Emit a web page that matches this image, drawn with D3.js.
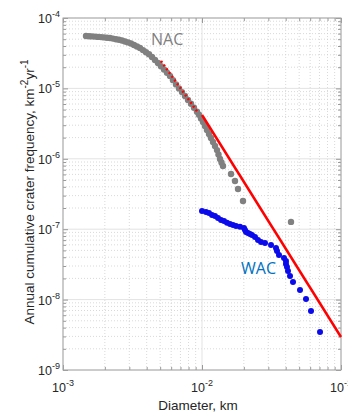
<!DOCTYPE html>
<html>
<head>
<meta charset="utf-8">
<script src="https://cdn.jsdelivr.net/npm/d3@7"></script>
<style>
body { margin: 0; background: #fff; }
text { font-family: "Liberation Sans", Arial, sans-serif; fill: #262626; }
</style>
</head>
<body>
<svg width="348" height="413"></svg>
<script>
// NAC cumulative frequency (gray)
const nacDiam = [0.001464, 0.001539, 0.001616, 0.001699, 0.001785, 0.001877, 0.001972, 0.002073, 0.002178, 0.002289,
	0.002406, 0.002528, 0.002657, 0.002793, 0.002935, 0.003084, 0.003242, 0.003407, 0.003581, 0.003763,
	0.003955, 0.004156, 0.004368, 0.00459, 0.004825, 0.00507, 0.005329, 0.0056, 0.005886, 0.006186,
	0.006501, 0.006832, 0.00718, 0.007546, 0.007931, 0.008335, 0.008759, 0.009205, 0.009515, 0.009835,
	0.01017, 0.01051, 0.01086, 0.01123, 0.01161, 0.012, 0.0124, 0.01282, 0.01314, 0.01348,
	0.01381, 0.01416, 0.01617, 0.01728, 0.01816, 0.01972, 0.04368]
const nacFreq = [5.55e-5, 5.51e-5, 5.48e-5, 5.44e-5, 5.39e-5, 5.35e-5, 5.3e-5, 5.25e-5, 5.2e-5, 5.1e-5,
	5.0e-5, 4.9e-5, 4.78e-5, 4.64e-5, 4.5e-5, 4.34e-5, 4.14e-5, 3.94e-5, 3.75e-5, 3.5e-5,
	3.27e-5, 3.05e-5, 2.79e-5, 2.53e-5, 2.3e-5, 2.07e-5, 1.86e-5, 1.67e-5, 1.5e-5, 1.31e-5,
	1.14e-5, 1.0e-5, 8.86e-6, 7.8e-6, 6.87e-6, 6.06e-6, 5.32e-6, 4.67e-6, 4.22e-6, 3.75e-6,
	3.33e-6, 2.92e-6, 2.57e-6, 2.25e-6, 1.98e-6, 1.73e-6, 1.52e-6, 1.33e-6, 1.15e-6, 9.94e-7,
	8.86e-7, 7.9e-7, 6.08e-7, 4.84e-7, 3.72e-7, 2.51e-7, 1.27e-7]

// WAC cumulative frequency (blue)
const wacDiam = [0.01, 0.01069, 0.01123, 0.0118, 0.0124, 0.01303, 0.0137, 0.0144, 0.01513, 0.0159,
	0.01671, 0.01757, 0.01876, 0.02005, 0.02039, 0.02073, 0.02143, 0.02215, 0.02289, 0.02406,
	0.02528, 0.02657, 0.0284, 0.03137, 0.03407, 0.03464, 0.03581, 0.0389, 0.04019, 0.04019,
	0.04087, 0.04156, 0.04297, 0.04515, 0.0507, 0.056, 0.06084, 0.07064]
const wacFreq = [1.81e-7, 1.76e-7, 1.7e-7, 1.59e-7, 1.54e-7, 1.44e-7, 1.35e-7, 1.31e-7, 1.23e-7, 1.19e-7,
	1.15e-7, 1.11e-7, 1.08e-7, 1.04e-7, 9.74e-8, 9.12e-8, 8.83e-8, 8.55e-8, 8.27e-8, 7.75e-8,
	7.02e-8, 6.58e-8, 6.37e-8, 5.97e-8, 5.41e-8, 4.9e-8, 4.3e-8, 3.9e-8, 3.53e-8, 3.2e-8,
	2.9e-8, 2.55e-8, 2.16e-8, 1.78e-8, 1.37e-8, 1.02e-8, 6.89e-9, 3.47e-9]

// power-law fit (red)
const fitDiam = [0.01, 0.1]
const fitFreq = [4.19e-6, 2.94e-9]
const fitExtDiam = [0.00507, 0.0094]
const fitExtFreq = [2.45e-5, 4.47e-6]

const xTicks = [1e-3, 1e-2, 1e-1]
const xTickExp = ["-3", "-2", "-1"]
const yTicks = [1e-9, 1e-8, 1e-7, 1e-6, 1e-5, 1e-4]
const yTickExp = ["-9", "-8", "-7", "-6", "-5", "-4"]

const margin = { top: 18, right: 7, bottom: 43, left: 63 }
const svg = d3.select("svg")
const width = +svg.attr("width") - margin.left - margin.right
const height = +svg.attr("height") - margin.top - margin.bottom

const x = d3.scaleLog().domain([1e-3, 1e-1]).range([0, width])
const y = d3.scaleLog().domain([1e-9, 1e-4]).range([height, 0])

const minor = (decades) => {
	const out = []
	decades.slice(0, -1).forEach((d) => {
		for (let k = 2; k <= 9; k++) out.push(d * k)
	})
	return out
}
const xMinor = minor(xTicks)
const yMinor = minor(yTicks)

const graph = svg.append("g").attr("transform", `translate(${margin.left}, ${margin.top})`)

// grid
const grid = graph.append("g")
grid.selectAll(".xm").data(xMinor).enter().append("line")
	.attr("x1", (d) => x(d)).attr("x2", (d) => x(d)).attr("y1", 0).attr("y2", height)
	.attr("stroke", "#cfcfcf").attr("stroke-width", 0.8).attr("stroke-dasharray", "1,2")
grid.selectAll(".ym").data(yMinor).enter().append("line")
	.attr("y1", (d) => y(d)).attr("y2", (d) => y(d)).attr("x1", 0).attr("x2", width)
	.attr("stroke", "#cfcfcf").attr("stroke-width", 0.8).attr("stroke-dasharray", "1,2")
grid.selectAll(".xM").data(xTicks).enter().append("line")
	.attr("x1", (d) => x(d)).attr("x2", (d) => x(d)).attr("y1", 0).attr("y2", height)
	.attr("stroke", "#e3e3e3").attr("stroke-width", 1)
grid.selectAll(".yM").data(yTicks).enter().append("line")
	.attr("y1", (d) => y(d)).attr("y2", (d) => y(d)).attr("x1", 0).attr("x2", width)
	.attr("stroke", "#e3e3e3").attr("stroke-width", 1)

// ticks on all sides, pointing inward
const tickGroup = (axis, tf) => graph.append("g").attr("transform", tf).call(axis)
	.call((g) => g.select(".domain").remove())
	.call((g) => g.selectAll("line").attr("stroke", "#999"))
const mk = (fn, scale, vals, size) => fn(scale).tickValues(vals).tickSize(size).tickFormat("")
tickGroup(mk(d3.axisBottom, x, xTicks, -5), `translate(0, ${height})`)
tickGroup(mk(d3.axisBottom, x, xMinor, -3), `translate(0, ${height})`)
tickGroup(mk(d3.axisTop, x, xTicks, -5), "translate(0, 0)")
tickGroup(mk(d3.axisTop, x, xMinor, -3), "translate(0, 0)")
tickGroup(mk(d3.axisLeft, y, yTicks, -5), "translate(0, 0)")
tickGroup(mk(d3.axisLeft, y, yMinor, -3), "translate(0, 0)")
tickGroup(mk(d3.axisRight, y, yTicks, -5), `translate(${width}, 0)`)
tickGroup(mk(d3.axisRight, y, yMinor, -3), `translate(${width}, 0)`)

graph.append("rect").attr("width", width).attr("height", height)
	.attr("fill", "none").attr("stroke", "#a6a6a6").attr("stroke-width", 1)

// tick labels
const xl = graph.selectAll(".xl").data(xTicks).enter().append("text")
	.attr("x", (d) => x(d)).attr("y", height + 22)
	.attr("text-anchor", "middle").style("font-size", "12.5px")
xl.append("tspan").text("10")
xl.append("tspan").attr("dy", -6).style("font-size", "9px").text((d, i) => xTickExp[i])

const yl = graph.selectAll(".yl").data(yTicks).enter().append("text")
	.attr("x", -3).attr("y", (d) => y(d) + 5)
	.attr("text-anchor", "end").style("font-size", "12.5px")
yl.append("tspan").text("10")
yl.append("tspan").attr("dy", -6).style("font-size", "9px").text((d, i) => yTickExp[i])

// axis titles
svg.append("text").attr("x", 198).attr("y", 410)
	.attr("text-anchor", "middle").style("font-size", "13.5px").text("Diameter, km")

const yt = svg.append("text")
	.attr("transform", `translate(34, ${margin.top + height / 2 - 2}) rotate(-90)`)
	.attr("text-anchor", "middle").style("font-size", "13.5px")
yt.append("tspan").text("Annual cumulative crater frequency, km")
yt.append("tspan").attr("dy", -6).style("font-size", "10px").text("-2")
yt.append("tspan").attr("dy", 6).text("yr")
yt.append("tspan").attr("dy", -6).style("font-size", "10px").text("-1")

// data
const plot = graph.append("g")
const nac = nacDiam.map((d, i) => ({ d, f: nacFreq[i] }))
const wac = wacDiam.map((d, i) => ({ d, f: wacFreq[i] }))

plot.selectAll(".nac").data(nac).enter().append("circle")
	.attr("cx", (p) => x(p.d)).attr("cy", (p) => y(p.f)).attr("r", 3.2)
	.attr("fill", "#808080")

const line = d3.line().x((p) => x(p.d)).y((p) => y(p.f))
plot.append("path")
	.datum(fitExtDiam.map((d, i) => ({ d, f: fitExtFreq[i] })))
	.attr("d", line).attr("fill", "none").attr("stroke", "#ff0000")
	.attr("stroke-width", 2.5).attr("stroke-dasharray", "2,2.6")
plot.append("path")
	.datum(fitDiam.map((d, i) => ({ d, f: fitFreq[i] })))
	.attr("d", line).attr("fill", "none").attr("stroke", "#ff0000")
	.attr("stroke-width", 2.5)

plot.selectAll(".wac").data(wac).enter().append("circle")
	.attr("cx", (p) => x(p.d)).attr("cy", (p) => y(p.f)).attr("r", 3)
	.attr("fill", "#0a0aeb")

svg.append("text").attr("x", 151).attr("y", 45)
	.style("font-family", "'Open Sans', sans-serif").style("font-size", "16px")
	.style("fill", "#7f7f7f").text("NAC")
svg.append("text").attr("x", 241).attr("y", 274)
	.style("font-family", "'Open Sans', sans-serif").style("font-size", "16px")
	.style("fill", "#0070c0").text("WAC")
</script>
</body>
</html>
